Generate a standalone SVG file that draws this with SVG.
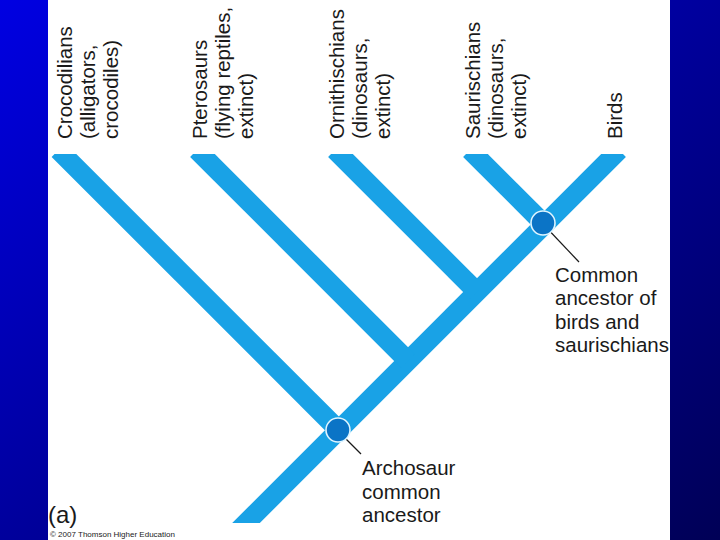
<svg xmlns="http://www.w3.org/2000/svg" width="720" height="540" viewBox="0 0 720 540">
  <defs>
    <linearGradient id="bg" x1="0" y1="0" x2="1" y2="1">
      <stop offset="0" stop-color="#0000e2"/>
      <stop offset="1" stop-color="#000056"/>
    </linearGradient>
    <clipPath id="treeClip">
      <rect x="48" y="154" width="622" height="369"/>
    </clipPath>
  </defs>
  <style>
    text { font-family: "Liberation Sans", Arial, sans-serif; fill: #1a1a1a; }
    .lbl { font-size: 20.5px; }
    .br { stroke: #19a2e6; stroke-width: 19.5; fill: none; stroke-linecap: butt; }
    .node { fill: #0b74c6; stroke: #dff5ff; stroke-width: 1.6; }
    .lead { stroke: #1a1a1a; stroke-width: 1.2; }
    .copy { font-size: 8px; fill: #222; }
  </style>

  <rect x="0" y="0" width="720" height="540" fill="url(#bg)"/>
  <rect x="48" y="0" width="622" height="540" fill="#ffffff"/>

  <g id="connectors" clip-path="url(#treeClip)">
    <line class="br" x1="619" y1="150" x2="239" y2="530"/>
    <line class="br" x1="58.5" y1="150" x2="338.75" y2="430.25"/>
    <line class="br" x1="197" y1="150" x2="408" y2="361"/>
    <line class="br" x1="335" y1="150" x2="477" y2="292"/>
    <line class="br" x1="470" y1="150" x2="544.5" y2="224.5"/>
  </g>

  <g id="crocodilians">
    <text class="lbl" transform="translate(72,139) rotate(-90)">
      <tspan x="0" y="0">Crocodilians</tspan>
      <tspan x="0" y="23">(alligators,</tspan>
      <tspan x="0" y="46">crocodiles)</tspan>
    </text>
  </g>
  <g id="pterosaurs">
    <text class="lbl" transform="translate(207,139) rotate(-90)">
      <tspan x="0" y="0">Pterosaurs</tspan>
      <tspan x="0" y="23">(flying reptiles,</tspan>
      <tspan x="0" y="46">extinct)</tspan>
    </text>
  </g>
  <g id="ornithischians">
    <text class="lbl" transform="translate(344,139) rotate(-90)">
      <tspan x="0" y="0">Ornithischians</tspan>
      <tspan x="0" y="23">(dinosaurs,</tspan>
      <tspan x="0" y="46">extinct)</tspan>
    </text>
  </g>
  <g id="saurischians">
    <text class="lbl" transform="translate(480,139) rotate(-90)">
      <tspan x="0" y="0">Saurischians</tspan>
      <tspan x="0" y="23">(dinosaurs,</tspan>
      <tspan x="0" y="46">extinct)</tspan>
    </text>
  </g>
  <g id="birds">
    <text class="lbl" transform="translate(622,139) rotate(-90)">Birds</text>
  </g>

  <g id="archosaur-node">
    <line class="lead" x1="338" y1="431" x2="361" y2="454"/>
    <circle class="node" cx="338" cy="430" r="12"/>
    <text class="lbl">
      <tspan x="362" y="475">Archosaur</tspan>
      <tspan x="362" y="498.5">common</tspan>
      <tspan x="362" y="522">ancestor</tspan>
    </text>
  </g>

  <g id="bird-saurischian-node">
    <line class="lead" x1="543" y1="224" x2="579" y2="262"/>
    <circle class="node" cx="543" cy="223" r="12"/>
    <text class="lbl">
      <tspan x="555" y="282">Common</tspan>
      <tspan x="555" y="305">ancestor of</tspan>
      <tspan x="555" y="328.5">birds and</tspan>
      <tspan x="555" y="352">saurischians</tspan>
    </text>
  </g>

  <g id="caption">
    <text x="48" y="523" font-size="24">(a)</text>
    <text class="copy" x="50" y="537">© 2007 Thomson Higher Education</text>
  </g>
</svg>
